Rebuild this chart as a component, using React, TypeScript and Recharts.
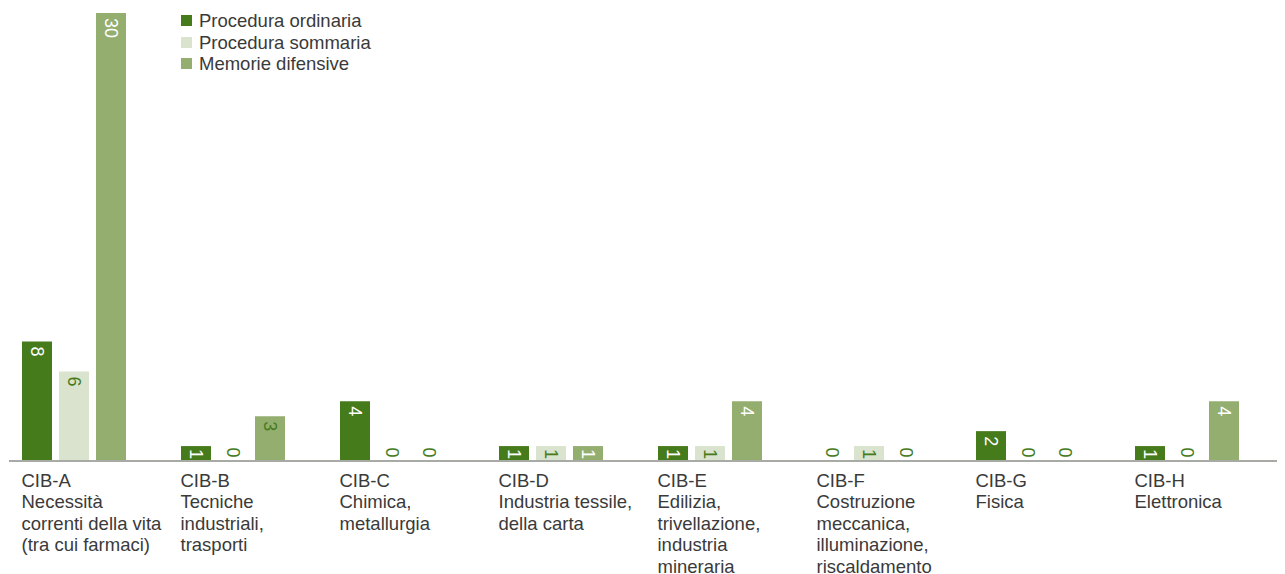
import { BarChart, Bar, XAxis, YAxis, Cell } from "recharts"

const codes = ["CIB-A", "CIB-B", "CIB-C", "CIB-D", "CIB-E", "CIB-F", "CIB-G", "CIB-H"]
const descriptions = [
  ["Necessità", "correnti della vita", "(tra cui farmaci)"],
  ["Tecniche", "industriali,", "trasporti"],
  ["Chimica,", "metallurgia"],
  ["Industria tessile,", "della carta"],
  ["Edilizia,", "trivellazione,", "industria", "mineraria"],
  ["Costruzione", "meccanica,", "illuminazione,", "riscaldamento"],
  ["Fisica"],
  ["Elettronica"],
]
const ordinaria = [8, 1, 4, 1, 1, 0, 2, 1]
const sommaria = [6, 0, 0, 1, 1, 1, 0, 0]
const memorie = [30, 3, 0, 1, 4, 0, 0, 4]

const seriesNames = ["Procedura ordinaria", "Procedura sommaria", "Memorie difensive"]
const DARK = "#467b1c"
const LIGHT = "#dae3cd"
const MID = "#94ae6f"
const TEXT = "#3a3a3a"
const FONT = "'Liberation Sans', Arial, sans-serif"

const data = codes.map((code, i) => ({
  code,
  ordinaria: ordinaria[i],
  sommaria: sommaria[i],
  memorie: memorie[i],
}))

function labelColor(series: string, value: number) {
  if (value === 0) return DARK
  if (series === "sommaria") return DARK
  if (series === "memorie" && value === 3) return DARK
  return "#ffffff"
}

const makeLabel = (series: string) => (props: any) => {
  const { x, y, width, height, value } = props
  const cx = x + width / 2
  const base = y + height
  const startY = value === 0 ? base - 13.5 : y + Math.min(5, height - 12)
  return (
    <text
      x={cx}
      y={startY}
      transform={`rotate(90, ${cx}, ${startY})`}
      textAnchor="start"
      dominantBaseline="central"
      fontSize={18}
      fontFamily={FONT}
      fill={labelColor(series, value)}
    >
      {value}
    </text>
  )
}

function CategoryTick(props: any) {
  const { x, y, payload, index } = props
  const lines = [payload.value, ...descriptions[index]]
  return (
    <text x={x - 52} y={y} fontSize={18.5} fontFamily={FONT} fill={TEXT}>
      {lines.map((line, i) => (
        <tspan key={i} x={x - 52} dy={i === 0 ? 17.5 : 21.5}>
          {line}
        </tspan>
      ))}
    </text>
  )
}

function LegendBox() {
  const colors = [DARK, LIGHT, MID]
  return (
    <div
      style={{
        position: "absolute",
        top: 2,
        left: 173,
        fontFamily: FONT,
        fontSize: 18.5,
        color: TEXT,
        lineHeight: "21.5px",
      }}
    >
      {seriesNames.map((name, i) => (
        <div key={name} style={{ display: "flex", alignItems: "center" }}>
          <span style={{ width: 11, height: 11, background: colors[i], marginRight: 7, display: "inline-block" }} />
          {name}
        </div>
      ))}
    </div>
  )
}

const zeroMin = (v: number) => (v === 0 ? 1 : 0)

export default function App() {
  const series = [
    { key: "ordinaria", color: DARK, values: ordinaria },
    { key: "sommaria", color: LIGHT, values: sommaria },
    { key: "memorie", color: MID, values: memorie },
  ]
  return (
    <div style={{ position: "relative", width: 1277, height: 566 }}>
      <BarChart
        width={1277}
        height={566}
        data={data}
        margin={{ top: 5, right: 0, left: 1, bottom: 0 }}
        barGap={7}
        barSize={30}
      >
        <XAxis
          dataKey="code"
          height={113}
          padding={{ left: -15, right: 19 }}
          tickLine={false}
          stroke="#a8aaa5"
          strokeWidth={2}
          interval={0}
          tick={<CategoryTick />}
        />
        <YAxis hide domain={[0, 30]} />
        {series.map((s) => (
          <Bar
            key={s.key}
            dataKey={s.key}
            fill={s.color}
            minPointSize={zeroMin}
            isAnimationActive={false}
            label={makeLabel(s.key)}
          >
            {s.values.map((v, i) => (
              <Cell key={i} fill={v === 0 ? "transparent" : s.color} />
            ))}
          </Bar>
        ))}
      </BarChart>
      <LegendBox />
    </div>
  )
}
